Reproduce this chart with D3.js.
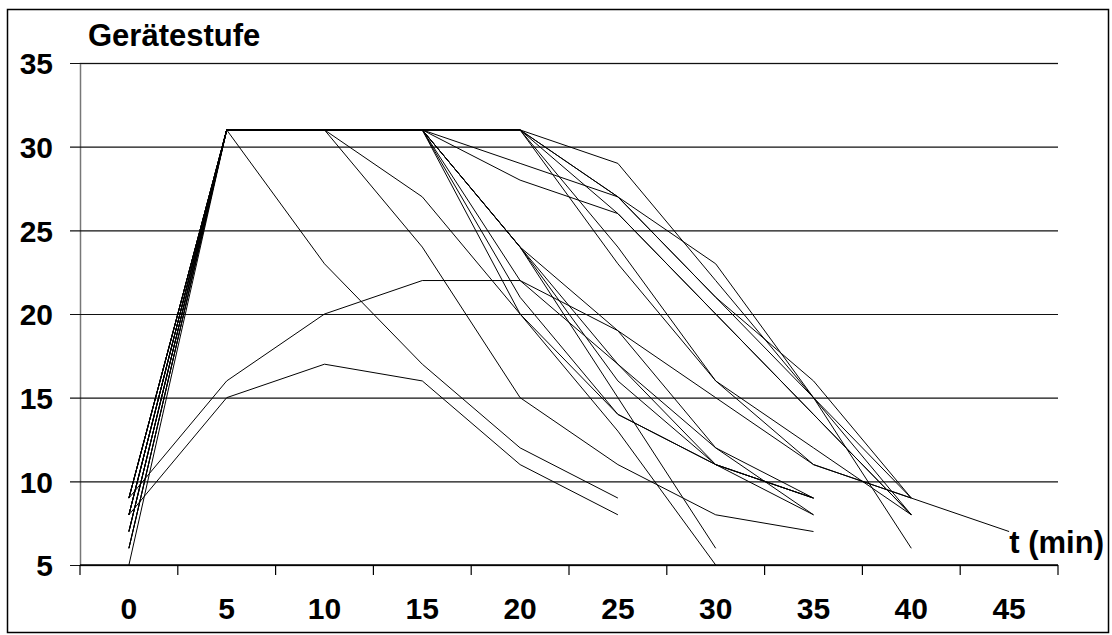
<!DOCTYPE html>
<html>
<head>
<meta charset="utf-8">
<script src="https://cdn.jsdelivr.net/npm/d3@7/dist/d3.min.js"></script>
<style>
  html, body { margin: 0; padding: 0; background: #fff; }
  svg { display: block; }
  text { font-family: "Liberation Sans", Arial, sans-serif; font-weight: bold; fill: #000; }
</style>
</head>
<body>
<svg id="chart" width="1112" height="635"></svg>
<script>
// ---- data ----
const categories = ["0", "5", "10", "15", "20", "25", "30", "35", "40", "45"];
const yTicks = [5, 10, 15, 20, 25, 30, 35];
const yTitle = "Gerätestufe";
const xTitle = "t (min)";

const series01 = [9, 16, 20, 22, 22, 19, 15, 11, 9];
const series02 = [8, 15, 17, 16, 11, 8];
const series03 = [9, 31, 23, 17, 12, 9];
const series04 = [7, 31, 31, 24, 15, 11, 8, 7];
const series05 = [8, 31, 31, 27, 20, 14, 11, 9];
const series06 = [9, 31, 31, 31, 29, 27, 21, 15, 9, 7];
const series07 = [8, 31, 31, 31, 28, 26, 20, 14, 8];
const series08 = [9, 31, 31, 31, 24, 19, 12, 9];
const series09 = [7, 31, 31, 31, 24, 16, 11, 9];
const series10 = [6, 31, 31, 31, 24, 15, 6];
const series11 = [8, 31, 31, 31, 24, 17, 12, 8];
const series12 = [9, 31, 31, 31, 20, 13, 5];
const series13 = [5, 31, 31, 31, 22, 17, 11, 9];
const series14 = [6, 31, 31, 31, 21, 14, 11, 8];
const series15 = [7, 31, 31, 31, 31, 29, 22, 15, 8];
const series16 = [8, 31, 31, 31, 31, 27, 21, 16, 9];
const series17 = [9, 31, 31, 31, 31, 26, 20, 14, 8];
const series18 = [6, 31, 31, 31, 31, 27, 23, 15, 6];
const series19 = [7, 31, 31, 31, 31, 24, 16, 12, 8];
const series20 = [8, 31, 31, 31, 31, 23, 16, 11, 9];

const allSeries = [series01, series02, series03, series04, series05, series06, series07,
  series08, series09, series10, series11, series12, series13, series14, series15,
  series16, series17, series18, series19, series20];

// ---- layout ----
const svg = d3.select("#chart");
const plotLeft = 80, plotRight = 1058, plotTop = 63, plotBottom = 565;

const xBand = d3.scaleBand().domain(categories).range([plotLeft, plotRight]).padding(0);
const xPoint = d3.scalePoint().domain(categories).range([plotLeft, plotRight]).padding(0.5);
const y = d3.scaleLinear().domain([5, 35]).range([plotBottom, plotTop]);

// outer border
svg.append("rect").attr("x", 7.5).attr("y", 9.5).attr("width", 1101).attr("height", 623)
  .attr("fill", "none").attr("stroke", "#000").attr("stroke-width", 1.5);

// gridlines + y ticks
const yAxis = d3.axisLeft(y).tickValues(yTicks).tickSize(-(plotRight - plotLeft)).tickPadding(16).tickFormat(d3.format("d"));
const gy = svg.append("g").attr("transform", `translate(${plotLeft},0)`).call(yAxis);
gy.select(".domain").attr("stroke", "#777").attr("stroke-width", 1.5);
gy.selectAll(".tick line").attr("stroke", "#111").attr("stroke-width", 1.2).attr("x1", -10);
gy.selectAll(".tick text").attr("font-size", 30).attr("x", -27).attr("dy", "0.36em");

// x axis
svg.append("line").attr("x1", plotLeft).attr("x2", plotRight).attr("y1", plotBottom).attr("y2", plotBottom)
  .attr("stroke", "#000").attr("stroke-width", 1.5);
const boundaries = categories.map(c => xBand(c)).concat([xBand.range()[1]]);
svg.append("g").selectAll("line").data(boundaries).join("line")
  .attr("x1", d => d).attr("x2", d => d).attr("y1", plotBottom).attr("y2", plotBottom + 10)
  .attr("stroke", "#000").attr("stroke-width", 1.2);
svg.append("g").selectAll("text").data(categories).join("text")
  .attr("x", d => xPoint(d)).attr("y", 619).attr("text-anchor", "middle")
  .attr("font-size", 30).text(d => d);

// titles
svg.append("text").attr("x", 88).attr("y", 46).attr("font-size", 31).text(yTitle);
svg.append("text").attr("x", 1104).attr("y", 553).attr("text-anchor", "end").attr("font-size", 31).text(xTitle);

// lines
const line = d3.line()
  .defined(d => d != null)
  .x((d, i) => xPoint(categories[i]))
  .y(d => y(d));
svg.append("g").selectAll("path").data(allSeries).join("path")
  .attr("d", d => line(d))
  .attr("fill", "none").attr("stroke", "#000").attr("stroke-width", 1)
  .attr("stroke-linejoin", "miter");
</script>
</body>
</html>
